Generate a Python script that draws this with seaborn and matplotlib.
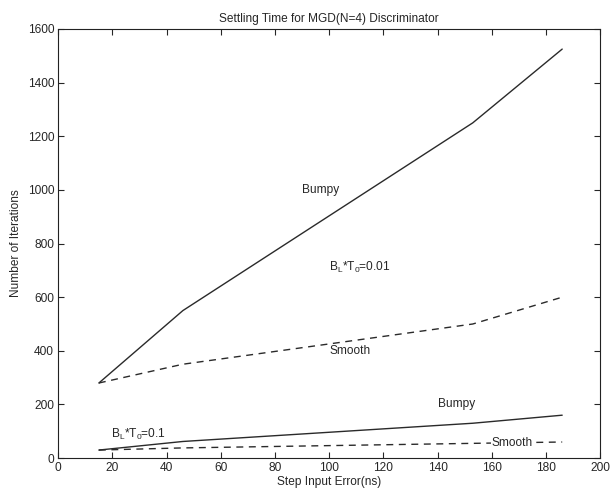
import pandas as pd
import seaborn as sns
from matplotlib import pyplot as plt

# data
step_err = [15, 46, 153, 186]
bumpy_001 = [280, 550, 1250, 1525]
smooth_001 = [280, 350, 500, 600]
bumpy_01 = [30, 62, 130, 160]
smooth_01 = [30, 38, 55, 60]

x_ticks = list(range(0, 201, 20))
y_ticks = list(range(0, 1601, 200))

sns.set_style("ticks")
plt.rcParams['font.family'] = ['Liberation Sans', 'DejaVu Sans']
plt.rcParams['mathtext.default'] = 'regular'
fs = 8.6

fig = plt.figure(figsize=(6.13, 4.91), dpi=100)
ax = fig.add_axes([0.095, 0.067, 0.884, 0.874])

series = [
    (bumpy_001, "-"),
    (smooth_001, (0, (5, 4))),
    (bumpy_01, "-"),
    (smooth_01, (0, (5, 4))),
]
for vals, ls in series:
    df = pd.DataFrame({"x": step_err, "y": vals})
    sns.lineplot(data=df, x="x", y="y", ax=ax, color="#2a2a2a", linewidth=1.0,
                 linestyle=ls, estimator=None, sort=False)

ax.text(97, 1000, "Bumpy", ha="center", va="center", fontsize=fs)
ax.text(100, 710, "B$_L$*T$_0$=0.01", ha="left", va="center", fontsize=fs)
ax.text(100, 400, "Smooth", ha="left", va="center", fontsize=fs)
ax.text(140, 200, "Bumpy", ha="left", va="center", fontsize=fs)
ax.text(19.5, 88, "B$_L$*T$_0$=0.1", ha="left", va="center", fontsize=fs)
ax.text(160, 55, "Smooth", ha="left", va="center", fontsize=fs,
        bbox=dict(facecolor="white", edgecolor="none", pad=0.5))

ax.set_xlim(0, 200)
ax.set_ylim(0, 1600)
ax.set_xticks(x_ticks)
ax.set_yticks(y_ticks)
ax.tick_params(direction="in", top=True, right=True, length=4, width=0.8,
               labelsize=fs, pad=3)
for s in ax.spines.values():
    s.set_visible(True)
    s.set_linewidth(0.8)
    s.set_color("#222222")

ax.set_xlabel("Step Input Error(ns)", fontsize=fs, labelpad=1)
ax.set_ylabel("Number of Iterations", fontsize=fs, labelpad=4)
ax.set_title("Settling Time for MGD(N=4) Discriminator", fontsize=fs, pad=5)

plt.savefig("out.png", dpi=100)
